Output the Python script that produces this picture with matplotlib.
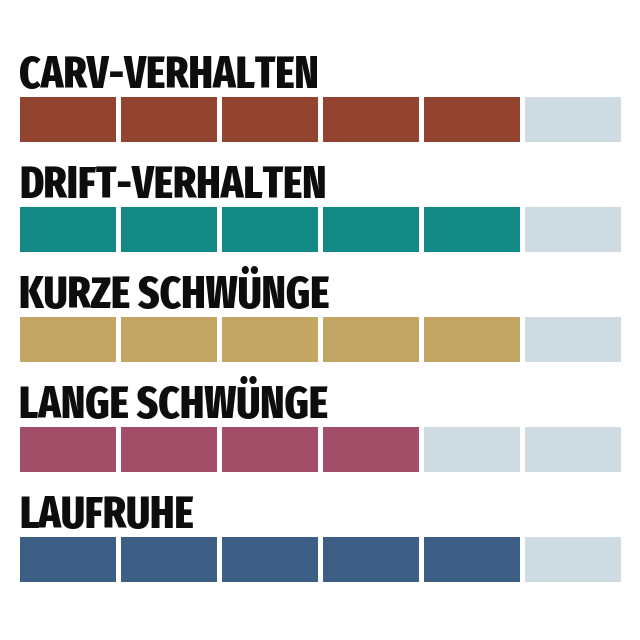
import matplotlib
matplotlib.use("Agg")
import matplotlib.pyplot as plt

categories = ["CARV-VERHALTEN", "DRIFT-VERHALTEN", "KURZE SCHWÜNGE", "LANGE SCHWÜNGE", "LAUFRUHE"]
scores = [5, 5, 5, 4, 5]
max_score = 6
colors = ["#934431", "#138986", "#c4a664", "#a24e69", "#3e5f85"]
empty_color = "#cfdbe3"

fig = plt.figure(figsize=(6.4, 6.4), dpi=100)
ax = fig.add_axes([0, 0, 1, 1])
ax.set_xlim(0, 640)
ax.set_ylim(640, 0)
ax.axis("off")

seg_w = 95.5
pitch = 101
row_pitch = 110
bar_top = 97
bar_h = 45

for i, (cat, score, col) in enumerate(zip(categories, scores, colors)):
    y = bar_top + i * row_pitch
    lefts = [20 + k * pitch for k in range(max_score)]
    fills = [col if k < score else empty_color for k in range(max_score)]
    ax.barh(y + bar_h / 2, [seg_w] * max_score, height=bar_h, left=lefts, color=fills)
    ax.text(19, y - 9, cat, fontsize=32, fontweight=800,
            family=["Fira Sans Extra Condensed", "DejaVu Sans"], va="baseline", ha="left",
            color="#0d0d0d")

fig.savefig("out.png", dpi=100)
